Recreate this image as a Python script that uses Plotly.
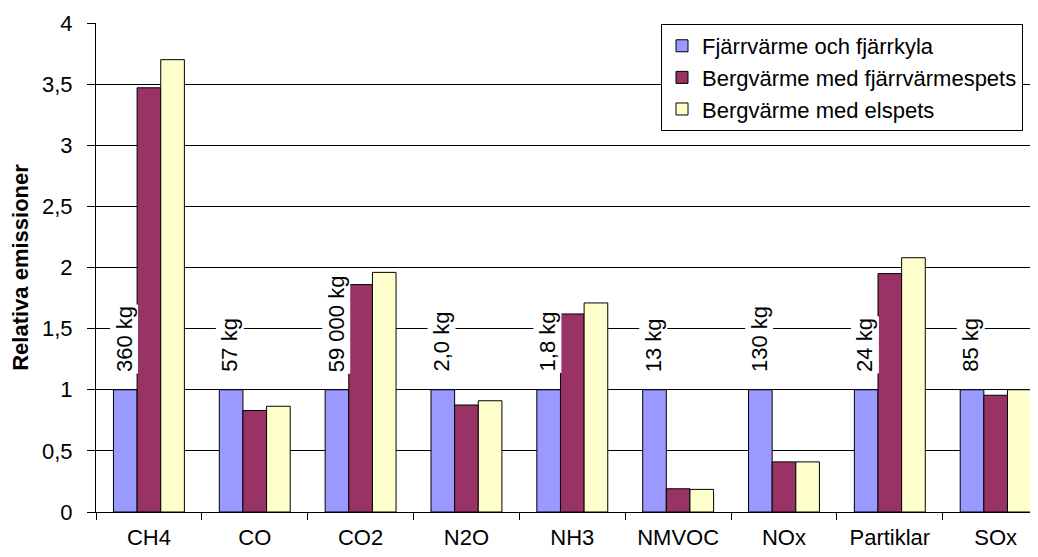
import plotly.graph_objects as go

# ---- data ----
categories = ["CH4", "CO", "CO2", "N2O", "NH3", "NMVOC", "NOx", "Partiklar", "SOx"]
series_names = ["Fjärrvärme och fjärrkyla", "Bergvärme med fjärrvärmespets", "Bergvärme med elspets"]
fjarrvarme = [1, 1, 1, 1, 1, 1, 1, 1, 1]
berg_fjv = [3.47, 0.83, 1.86, 0.875, 1.62, 0.19, 0.41, 1.95, 0.955]
berg_el = [3.70, 0.865, 1.96, 0.91, 1.71, 0.185, 0.41, 2.08, 1.0]
abs_labels = ["360 kg", "57 kg", "59 000 kg", "2,0 kg", "1,8 kg", "13 kg", "130 kg", "24 kg", "85 kg"]
y_tickvals = [0, 0.5, 1, 1.5, 2, 2.5, 3, 3.5, 4]
y_ticktext = ["0", "0,5", "1", "1,5", "2", "2,5", "3", "3,5", "4"]
y_title = "Relativa emissioner"

# ---- style ----
colors = ["#9999FF", "#993366", "#FFFFCC"]
FONT = "Liberation Sans, Arial, sans-serif"
FS = 22

fig = go.Figure()
for name, vals, col in zip(series_names, [fjarrvarme, berg_fjv, berg_el], colors):
    fig.add_trace(go.Bar(
        x=categories, y=vals, name=name, legendgroup=name,
        marker=dict(color=col, line=dict(color="#000000", width=1)),
        hoverinfo="skip",
    ))

# page has an 8px body margin -> figure is 1030x549 placed at (8, 8)
W, H = 1030, 549
ml, mr, mt, mb = 88, 0, 15, 45
xmin, xmax = -0.5, 8.4
bargap = 0.33
px_per_cat = (W - ml - mr) / (xmax - xmin)
bar_w = px_per_cat * (1 - bargap) / 3

for cat, v, lab in zip(categories, fjarrvarme, abs_labels):
    fig.add_annotation(
        x=cat, y=v, xref="x", yref="y", text=lab, showarrow=False,
        textangle=-90, xanchor="center", yanchor="bottom",
        xshift=-bar_w - 1, yshift=16,
        bgcolor="#FFFFFF", borderpad=1,
        font=dict(family=FONT, size=FS, color="#000000"),
    )

fig.update_layout(
    width=W, height=H,
    margin=dict(l=ml, r=mr, t=mt, b=mb, autoexpand=False),
    paper_bgcolor="#FFFFFF", plot_bgcolor="#FFFFFF",
    font=dict(family=FONT, size=FS, color="#000000"),
    barmode="group", bargap=bargap, bargroupgap=0,
    showlegend=True,
    legend=dict(
        x=(653 - ml) / (W - ml - mr), y=0.998, xanchor="left", yanchor="top",
        bgcolor="#FFFFFF", bordercolor="#000000", borderwidth=1,
        font=dict(family=FONT, size=FS, color="#000000"),
        tracegroupgap=5, traceorder="normal",
    ),
    xaxis=dict(
        type="category", range=[xmin, xmax],
        showline=True, linecolor="#000000", linewidth=1,
        ticks="outside", tickson="boundaries", ticklen=7, tickcolor="#000000",
        ticklabelstandoff=6,
        showgrid=False, zeroline=False,
        tickfont=dict(family=FONT, size=FS, color="#000000"),
    ),
    yaxis=dict(
        range=[0, 4], tickvals=y_tickvals, ticktext=y_ticktext,
        showline=True, linecolor="#000000", linewidth=1,
        ticks="outside", ticklen=8, tickcolor="#000000",
        ticklabelstandoff=10,
        showgrid=True, gridcolor="#000000", gridwidth=1, zeroline=False,
        tickfont=dict(family=FONT, size=FS, color="#000000"),
        title=dict(text="<b>" + y_title + "</b>", standoff=8,
                   font=dict(family=FONT, size=FS, color="#000000")),
    ),
)

fig.write_html("out.html")
